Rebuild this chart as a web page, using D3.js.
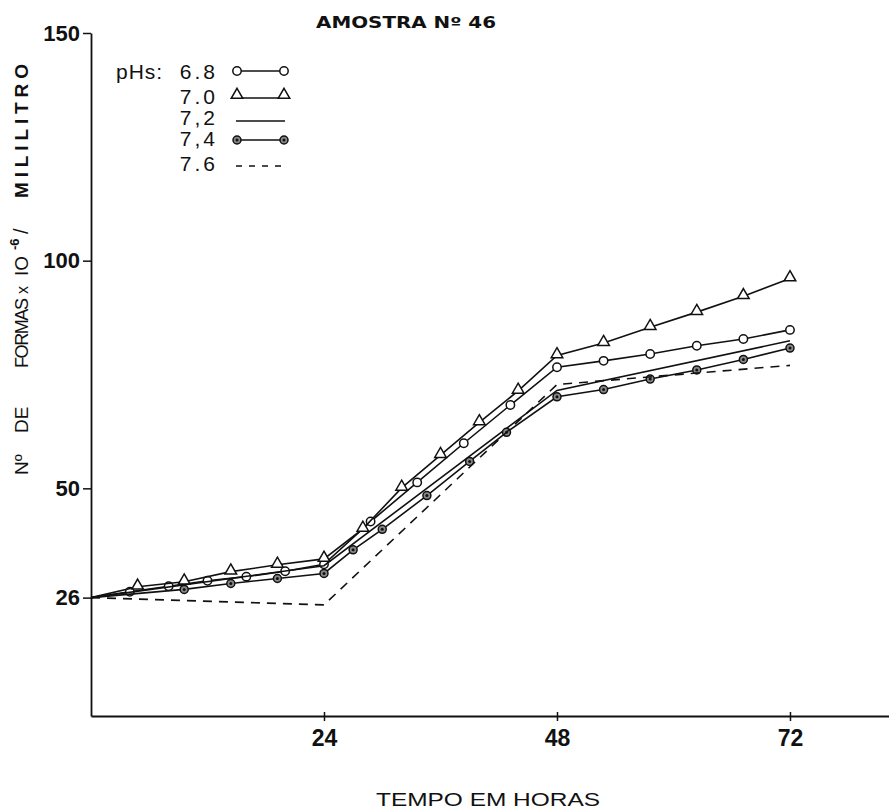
<!DOCTYPE html>
<html>
<head>
<meta charset="utf-8">
<script src="https://cdn.jsdelivr.net/npm/d3@7"></script>
<style>
  body { margin: 0; background: #fff; }
  svg { display: block; }
  text { fill: #111; }
</style>
</head>
<body>
<div id="chart"></div>
<script>
// leituras da figura (horas, formas x 10^-6 / ml)
var horas68 = [0, 4, 8, 12, 16, 20, 24, 28.8, 33.6, 38.4, 43.2, 48, 52.8, 57.6, 62.4, 67.2, 72];
var ph68    = [26, 27.3, 28.5, 29.7, 30.6, 31.8, 33.3, 42.7, 51.3, 59.9, 68.3, 76.6, 78.0, 79.5, 81.3, 82.8, 84.8];

var horas70 = [0, 4.8, 9.6, 14.4, 19.2, 24, 28, 32, 36, 40, 44, 48, 52.8, 57.6, 62.4, 67.2, 72];
var ph70    = [26, 28.4, 29.5, 31.7, 33.2, 34.5, 41.1, 50.1, 57.3, 64.5, 71.4, 79.2, 81.9, 85.4, 88.7, 92.2, 96.1];

var horas72 = [0, 24, 48, 72];
var ph72    = [26, 33.0, 71.5, 82.4];

var horas74 = [0, 9.6, 14.4, 19.2, 24, 27, 30, 34.6, 39, 42.8, 48, 52.8, 57.6, 62.4, 67.2, 72];
var ph74    = [26, 27.8, 29.1, 30.2, 31.3, 36.5, 41.0, 48.4, 55.9, 62.3, 70.1, 71.7, 74.0, 76.0, 78.3, 80.8];

var horas76 = [0, 24, 48, 72];
var ph76    = [26, 24.4, 72.8, 77.0];

var ticksX = [24, 48, 72];
var ticksY = [26, 50, 100, 150];
var legendaPH = ['6.8', '7.0', '7,2', '7,4', '7.6'];

var width = 889, height = 809;

var svg = d3.select('#chart').append('svg')
  .attr('width', width)
  .attr('height', height);

var x = d3.scaleLinear().domain([0, 82.2]).range([91, 889]);
var y = d3.scaleLinear().domain([0, 150]).range([716, 33]);

// eixo x
var gx = svg.append('g')
  .attr('transform', 'translate(0,' + y(0) + ')')
  .call(d3.axisBottom(x).tickValues(ticksX).tickSizeInner(5).tickSizeOuter(0).tickPadding(9));
gx.select('.domain').attr('stroke', '#111').attr('stroke-width', 2);
gx.selectAll('.tick line').attr('stroke', '#111').attr('stroke-width', 1.5).attr('y1', -4);
gx.selectAll('.tick text')
  .attr('font-family', 'Liberation Sans, Arial, sans-serif')
  .attr('font-size', 23).attr('font-weight', 'bold').attr('fill', '#111');

// eixo y
var gy = svg.append('g')
  .attr('transform', 'translate(' + x(0) + ',0)')
  .call(d3.axisLeft(y).tickValues(ticksY).tickSizeInner(8).tickSizeOuter(0).tickPadding(3));
gy.select('.domain').attr('stroke', '#111').attr('stroke-width', 1.8);
gy.selectAll('.tick line').attr('stroke', '#111').attr('stroke-width', 1.5);
gy.selectAll('.tick text')
  .attr('font-family', 'Liberation Sans, Arial, sans-serif')
  .attr('font-size', 22).attr('font-weight', 'bold').attr('fill', '#111');

// titulos
svg.append('text')
  .attr('x', 406).attr('y', 28)
  .attr('text-anchor', 'middle')
  .attr('font-family', 'DejaVu Sans, sans-serif')
  .attr('font-size', 16).attr('font-weight', 'bold')
  .attr('textLength', 180).attr('lengthAdjust', 'spacingAndGlyphs')
  .text('AMOSTRA Nº 46');

svg.append('text')
  .attr('x', 488).attr('y', 806)
  .attr('text-anchor', 'middle')
  .attr('font-family', 'Liberation Sans, sans-serif')
  .attr('font-size', 19)
  .attr('textLength', 224).attr('lengthAdjust', 'spacingAndGlyphs')
  .text('TEMPO EM HORAS');

// rotulo do eixo y, em pedacos (de baixo para cima): [texto, inicio, comprimento, tamanho, negrito, deslocamento]
var pedacosY = [
  ['Nº', 475, null, 19, false, 0],
  ['DE', 433, null, 19, false, 0],
  ['FORMAS', 368, 70, 18, false, 0],
  ['x', 294, null, 16, false, 0],
  ['IO', 276, null, 19, false, 0],
  ['-6', 250, null, 13, true, -9],
  ['/', 234, null, 20, false, 0],
  ['MILILITRO', 198, 134, 19, true, 0]
];
pedacosY.forEach(function(p) {
  var t = svg.append('text')
    .attr('transform', 'translate(' + (28 + p[5]) + ',' + p[1] + ') rotate(-90)')
    .attr('font-family', 'Liberation Sans, sans-serif')
    .attr('font-size', p[3])
    .attr('font-weight', p[4] ? 'bold' : 'normal')
    .text(p[0]);
  if (p[2]) t.attr('textLength', p[2]).attr('lengthAdjust', 'spacing');
});

// series
var linha = d3.line().x(function(d){ return x(d[0]); }).y(function(d){ return y(d[1]); });
function pares(h, v){ return h.map(function(t, i){ return [t, v[i]]; }); }

var series = [
  { nome: '6.8', dados: pares(horas68, ph68), marca: 'circulo', traco: null },
  { nome: '7.0', dados: pares(horas70, ph70), marca: 'triangulo', traco: null },
  { nome: '7,2', dados: pares(horas72, ph72), marca: null, traco: null },
  { nome: '7,4', dados: pares(horas74, ph74), marca: 'ponto', traco: null },
  { nome: '7.6', dados: pares(horas76, ph76), marca: null, traco: '9,7' }
];

var triangulo = d3.symbol().type(d3.symbolTriangle).size(58);

function desenhaMarca(g, tipo, px, py) {
  if (tipo === 'circulo') {
    g.append('circle').attr('cx', px).attr('cy', py).attr('r', 4.2)
      .attr('fill', '#fff').attr('stroke', '#111').attr('stroke-width', 1.5);
  } else if (tipo === 'triangulo') {
    g.append('path').attr('d', triangulo)
      .attr('transform', 'translate(' + px + ',' + (py - 1) + ')')
      .attr('fill', '#fff').attr('stroke', '#111').attr('stroke-width', 1.5);
  } else if (tipo === 'ponto') {
    g.append('circle').attr('cx', px).attr('cy', py).attr('r', 4)
      .attr('fill', '#888').attr('stroke', '#111').attr('stroke-width', 1.5);
    g.append('circle').attr('cx', px).attr('cy', py).attr('r', 1.5).attr('fill', '#111');
  }
}

series.forEach(function(s) {
  var g = svg.append('g');
  g.append('path').datum(s.dados)
    .attr('d', linha)
    .attr('fill', 'none')
    .attr('stroke', '#111')
    .attr('stroke-width', 1.6)
    .attr('stroke-dasharray', s.traco);
  if (s.marca) {
    s.dados.slice(1).forEach(function(d) { desenhaMarca(g, s.marca, x(d[0]), y(d[1])); });
  }
});

// legenda
var leg = svg.append('g');
leg.append('text').attr('x', 116).attr('y', 79)
  .attr('font-family', 'Liberation Sans, sans-serif').attr('font-size', 21)
  .attr('letter-spacing', 1).text('pHs:');
var linhasY = [71, 98, 121, 140, 166];
var textoY = [79, 104, 125, 146, 171];
series.forEach(function(s, i) {
  leg.append('text').attr('x', 218).attr('y', textoY[i])
    .attr('text-anchor', 'end')
    .attr('font-family', 'Liberation Sans, sans-serif').attr('font-size', 21)
    .attr('letter-spacing', 3)
    .text(legendaPH[i]);
  leg.append('line')
    .attr('x1', 236).attr('x2', 285)
    .attr('y1', linhasY[i]).attr('y2', linhasY[i])
    .attr('stroke', '#111').attr('stroke-width', 1.4)
    .attr('stroke-dasharray', s.traco ? '6,7' : null);
  if (s.marca) {
    desenhaMarca(leg, s.marca, 237, linhasY[i] - (s.marca === 'triangulo' ? 2 : 0));
    desenhaMarca(leg, s.marca, 284, linhasY[i] - (s.marca === 'triangulo' ? 2 : 0));
  }
});
</script>
</body>
</html>
